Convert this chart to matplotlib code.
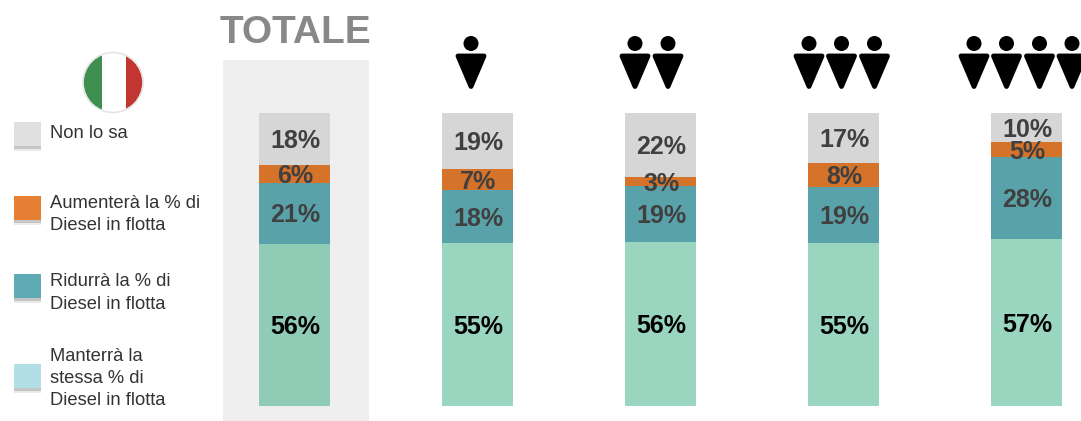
import matplotlib
matplotlib.use('Agg')
import matplotlib.pyplot as plt
from matplotlib.patches import Circle, Polygon, Rectangle
import numpy as np

plt.rcParams['font.family'] = ['Liberation Sans', 'DejaVu Sans']

# Data, one value per column (Totale, then 1, 2, 3, 4 people)
people = [0, 1, 2, 3, 4]
manterra = [56, 55, 56, 55, 57]
ridurra = [21, 18, 19, 19, 28]
aumentera = [6, 7, 3, 8, 5]
non_sa = [18, 19, 22, 17, 10]

series = [manterra, ridurra, aumentera, non_sa]
bar_colors = ['#9ad5c0', '#5aa2aa', '#d5732a', '#d6d6d6']
total_green = '#90cbb6'

legend_labels = ['Non lo sa', 'Aumenterà la % di\nDiesel in flotta',
                 'Ridurrà la % di\nDiesel in flotta',
                 'Manterrà la\nstessa % di\nDiesel in flotta']
legend_colors = ['#e0e0e0', '#e67e33', '#5fabb5', '#b2dfe5']

W, H = 1081, 421
fig = plt.figure(figsize=(W / 100, H / 100), dpi=100)

# Background layer, in pixels
bg = fig.add_axes([0, 0, 1, 1], zorder=0)
bg.set_xlim(0, W)
bg.set_ylim(H, 0)
bg.axis('off')

bg.add_patch(Rectangle((223, 60), 146, 361, color='#efefef', lw=0))
bg.text(295, 33, 'TOTALE', fontsize=28, fontweight='bold', color='#888888',
        ha='center', va='center')

# Flag
clip = Circle((113, 82.5), 29.5, transform=bg.transData)
for x0, w, c in [(83, 18.5, '#3f8f50'), (101.5, 24, '#ffffff'), (125.5, 18, '#c23530')]:
    bar = bg.add_patch(Rectangle((x0, 52), w, 62, color=c, lw=0))
    bar.set_clip_path(clip)
bg.add_patch(Circle((113, 82.5), 30, fill=False, ec='#e4e4e4', lw=1.2))

# Legend
swatch_y = [122, 196, 274, 364]
text_y = [134, 214.5, 293, 378.5]
for y, c, lab, ty in zip(swatch_y, legend_colors, legend_labels, text_y):
    bg.add_patch(Rectangle((14, y + 2), 27, 27, color='#bbbbbb', alpha=0.3, lw=0))
    bg.add_patch(Rectangle((14, y + 3), 27, 23.5, color='#999999', alpha=0.45, lw=0))
    bg.add_patch(Rectangle((14, y), 27, 24, color=c, lw=0))
    bg.text(50, ty, lab, fontsize=13.2, color='#333333', va='center', ha='left',
            linespacing=1.4)


def person(cx):
    bg.add_patch(Circle((cx, 43.5), 7.5, color='black', lw=0))
    bg.add_patch(Polygon([(cx - 13, 56), (cx + 13, 56), (cx, 86.5)], closed=True,
                         fc='black', ec='black', lw=3.5, joinstyle='round'))


icon_x = {1: [471], 2: [635, 668], 3: [809, 841.5, 874.5], 4: [974, 1006.5, 1039.5, 1072]}
for n in people[1:]:
    for cx in icon_x[n]:
        person(cx)

# Stacked bars, each column scaled to full height
ax = fig.add_axes([0, (H - 406) / H, 1, 293 / H], zorder=1)
ax.patch.set_alpha(0)
ax.axis('off')
ax.set_xlim(-294.5 / 183, (W - 294.5) / 183)
ax.set_ylim(0, 100)

values = np.array(series, dtype=float)
shares = values / values.sum(axis=0) * 100
x = np.arange(len(people))
bottom = np.zeros(len(people))
for i, (row, color) in enumerate(zip(shares, bar_colors)):
    colors = [color] * len(people)
    if i == 0:
        colors[0] = total_green
    ax.bar(x, row, bottom=bottom, width=71 / 183, color=colors, linewidth=0)
    for j in range(len(people)):
        ax.annotate(f'{int(values[i, j])}%', (x[j], bottom[j] + row[j] / 2), xytext=(0.5, -1.5),
                    textcoords='offset points', ha='center', va='center',
                    fontsize=18, fontweight='bold', color='black' if i == 0 else '#404040')
    bottom += row

fig.savefig('out.png', dpi=100)
